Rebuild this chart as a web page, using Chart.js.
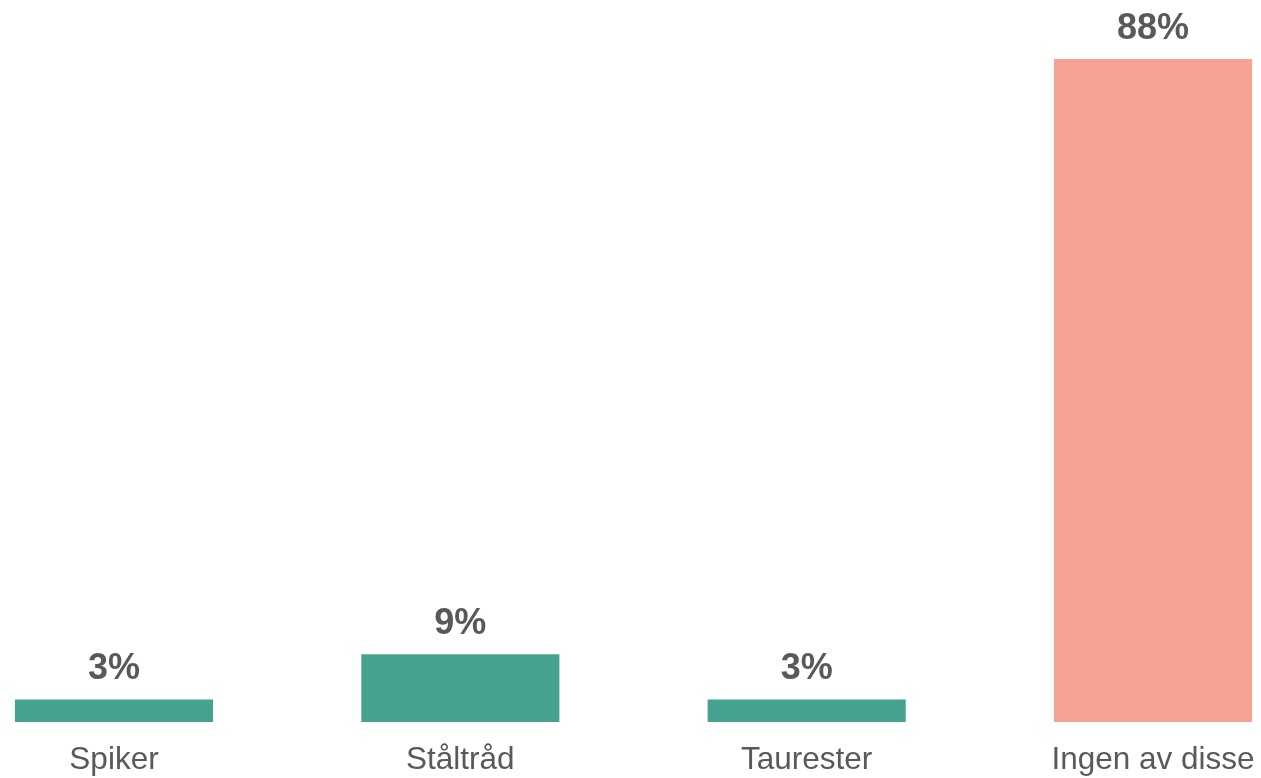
<!DOCTYPE html>
<html lang="no">
<head>
  <meta charset="UTF-8">
  <title>Funn i fôr</title>
  <script src="https://cdn.jsdelivr.net/npm/chart.js"></script>
  <style>
    html, body { margin: 0; padding: 0; background: #fff; }
    .wrap { width: 1261px; height: 778px; }
  </style>
</head>
<body>
  <div class="wrap">
    <canvas id="chart"></canvas>
  </div>

  <script>
    const categories = ['Spiker', 'Ståltråd', 'Taurester', 'Ingen av disse'];
    const shares = [3, 9, 3, 88];
    const barColors = ['#45a290', '#45a290', '#45a290', '#f5a493'];

    const textColor = '#595959';
    const fontFamily = '"Liberation Sans", Arial, sans-serif';

    // draws the percentage above each bar
    const valueLabels = {
      id: 'valueLabels',
      afterDatasetsDraw(chart) {
        const ctx = chart.ctx;
        const meta = chart.getDatasetMeta(0);
        ctx.save();
        ctx.font = 'bold 36px ' + fontFamily;
        ctx.fillStyle = textColor;
        ctx.textAlign = 'center';
        ctx.textBaseline = 'alphabetic';
        meta.data.forEach((bar, i) => {
          ctx.fillText(shares[i] + '%', bar.x, bar.y - 20);
        });
        ctx.restore();
      }
    };

    new Chart(document.getElementById('chart'), {
      type: 'bar',
      data: {
        labels: categories,
        datasets: [{
          data: shares,
          backgroundColor: barColors,
          categoryPercentage: 1,
          barPercentage: 0.572,
          clip: false
        }]
      },
      options: {
        responsive: true,
        maintainAspectRatio: false,
        animation: false,
        // tall line height pushes the category labels down instead of tick padding
        layout: { padding: { left: 114, right: 108, top: 59, bottom: -20 } },
        plugins: {
          legend: { display: false },
          tooltip: { enabled: false }
        },
        scales: {
          x: {
            offset: false,
            grid: { display: false, drawTicks: false },
            border: { display: false },
            ticks: {
              color: textColor,
              padding: 0,
              font: { family: fontFamily, size: 31.5, lineHeight: 2.4127 },
              maxRotation: 0,
              autoSkip: false
            }
          },
          y: {
            display: false,
            min: 0,
            max: 88
          }
        }
      },
      plugins: [valueLabels]
    });
  </script>
</body>
</html>
